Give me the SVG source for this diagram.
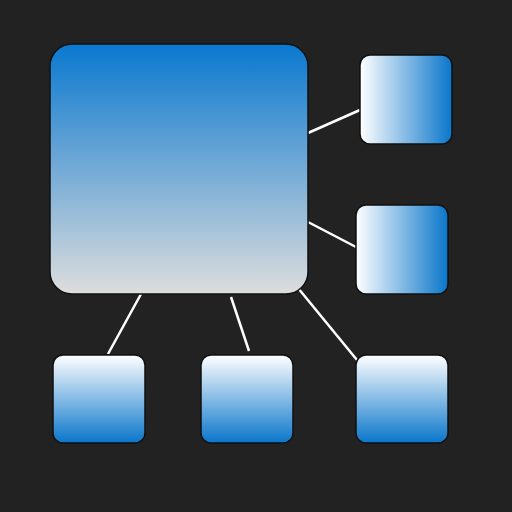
<svg xmlns="http://www.w3.org/2000/svg" width="512" height="512" viewBox="0 0 512 512">
<defs>
<linearGradient id="gMain" x1="0" y1="0" x2="0" y2="1">
<stop offset="0" stop-color="#0a78cf"/>
<stop offset="1" stop-color="#dddddd"/>
</linearGradient>
<linearGradient id="gH" x1="0" y1="0" x2="1" y2="0">
<stop offset="0" stop-color="#ffffff"/>
<stop offset="1" stop-color="#0a76ca"/>
</linearGradient>
<linearGradient id="gV" x1="0" y1="0" x2="0" y2="1">
<stop offset="0" stop-color="#ffffff"/>
<stop offset="1" stop-color="#0a76ca"/>
</linearGradient>
<style>
.box{stroke:#111111;stroke-width:1.5}
.conn line{stroke:#ffffff;stroke-width:2.5;stroke-linecap:butt}
</style>
</defs>
<rect width="512" height="512" fill="#222222"/>
<g class="conn" id="connectors">
<line x1="308" y1="133" x2="360" y2="110"/>
<line x1="308" y1="222" x2="356" y2="247"/>
<line x1="141" y1="294" x2="108" y2="354"/>
<line x1="231" y1="297" x2="249" y2="351"/>
<line x1="298" y1="288" x2="357" y2="360"/>
</g>
<g id="main"><rect class="box" x="50" y="44" width="258" height="250" rx="22" fill="url(#gMain)"/></g>
<g id="right1"><rect class="box" x="360" y="55" width="92" height="89" rx="10" fill="url(#gH)"/></g>
<g id="right2"><rect class="box" x="356" y="205" width="92" height="89" rx="10" fill="url(#gH)"/></g>
<g id="bottom1"><rect class="box" x="53" y="355" width="92" height="88" rx="10" fill="url(#gV)"/></g>
<g id="bottom2"><rect class="box" x="201" y="355" width="92" height="88" rx="10" fill="url(#gV)"/></g>
<g id="bottom3"><rect class="box" x="356" y="355" width="92" height="88" rx="10" fill="url(#gV)"/></g>
</svg>
